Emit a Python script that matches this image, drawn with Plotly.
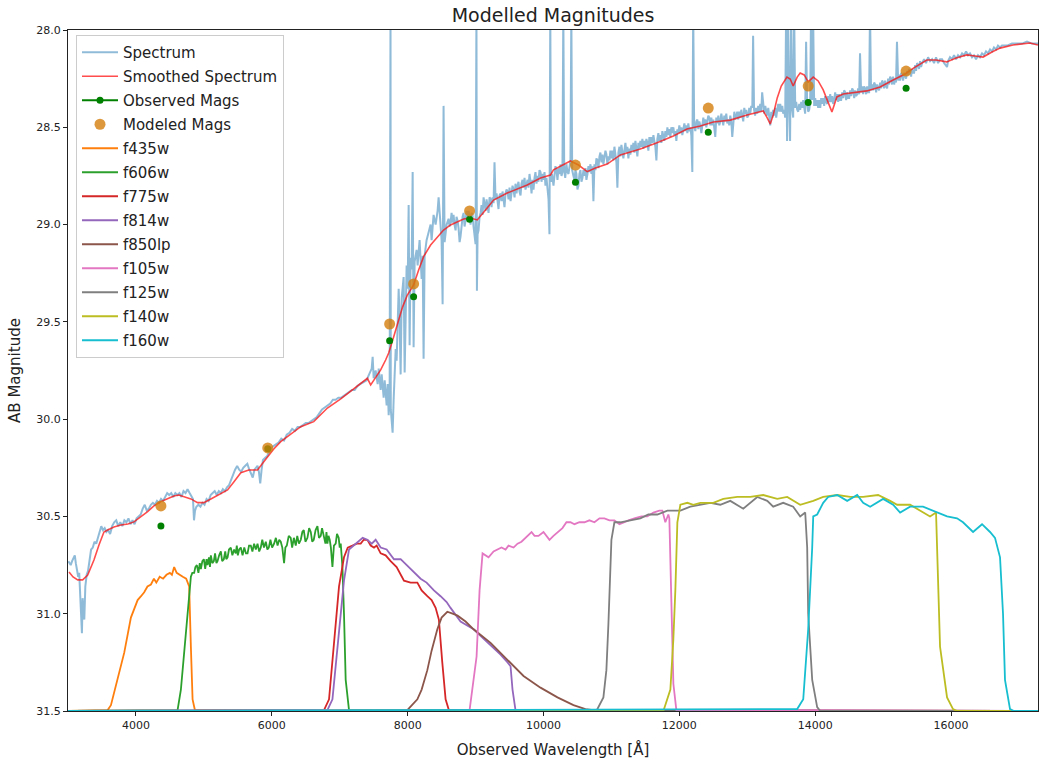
import plotly.graph_objects as go

# Observed spectrum: (observed wavelength [Å], AB magnitude)
spectrum = [
    (3005, 30.73), (3040, 30.75), (3060, 30.73), (3085, 30.71), (3100, 30.70), (3115, 30.74),
    (3130, 30.77), (3150, 30.81), (3165, 30.79), (3180, 30.89), (3195, 31.04), (3205, 31.10),
    (3215, 30.92), (3228, 30.97), (3240, 31.03), (3255, 30.86), (3275, 30.80), (3295, 30.78),
    (3320, 30.71), (3340, 30.67), (3365, 30.66), (3390, 30.63), (3415, 30.64), (3440, 30.61),
    (3465, 30.58), (3490, 30.55), (3515, 30.57), (3540, 30.56), (3565, 30.58), (3590, 30.57),
    (3620, 30.59), (3650, 30.55), (3680, 30.53), (3710, 30.52), (3740, 30.55), (3770, 30.53),
    (3800, 30.55), (3830, 30.52), (3860, 30.53), (3890, 30.51), (3920, 30.54), (3950, 30.52),
    (3980, 30.54), (4010, 30.51), (4040, 30.50), (4070, 30.49), (4100, 30.46), (4130, 30.44),
    (4160, 30.47), (4190, 30.46), (4220, 30.44), (4250, 30.43), (4280, 30.44), (4310, 30.42),
    (4340, 30.43), (4370, 30.41), (4400, 30.42), (4430, 30.40), (4460, 30.38), (4490, 30.39),
    (4520, 30.38), (4550, 30.40), (4580, 30.38), (4610, 30.39), (4640, 30.38), (4670, 30.40),
    (4700, 30.37), (4730, 30.38), (4760, 30.36), (4790, 30.38), (4820, 30.40), (4840, 30.41),
    (4855, 30.52), (4870, 30.47), (4890, 30.45), (4920, 30.44), (4950, 30.45), (4980, 30.43),
    (5010, 30.44), (5040, 30.41), (5070, 30.42), (5100, 30.39), (5130, 30.38), (5160, 30.37),
    (5190, 30.39), (5220, 30.37), (5250, 30.38), (5280, 30.36), (5310, 30.37), (5340, 30.35),
    (5370, 30.34), (5400, 30.31), (5430, 30.28), (5460, 30.26), (5490, 30.24), (5520, 30.26),
    (5550, 30.27), (5580, 30.25), (5610, 30.24), (5640, 30.23), (5670, 30.26), (5700, 30.28),
    (5720, 30.30), (5745, 30.26), (5770, 30.25), (5790, 30.24), (5810, 30.27), (5830, 30.33),
    (5850, 30.26), (5870, 30.21), (5900, 30.20), (5930, 30.19), (5960, 30.17), (5990, 30.15),
    (6020, 30.14), (6060, 30.13), (6100, 30.12), (6140, 30.10), (6180, 30.11), (6220, 30.08),
    (6260, 30.07), (6300, 30.05), (6340, 30.06), (6380, 30.04), (6420, 30.04), (6460, 30.03),
    (6500, 30.02), (6540, 30.02), (6580, 30.01), (6620, 30.00), (6660, 29.99), (6700, 29.97),
    (6740, 29.95), (6780, 29.94), (6820, 29.93), (6860, 29.92), (6900, 29.90), (6940, 29.90),
    (6980, 29.89), (7020, 29.89), (7060, 29.88), (7100, 29.87), (7140, 29.86), (7180, 29.85),
    (7220, 29.85), (7260, 29.83), (7300, 29.82), (7340, 29.81), (7380, 29.80), (7397, 29.80),
    (7420, 29.78), (7441, 29.76), (7471, 29.74), (7485, 29.68), (7500, 29.79), (7529, 29.75),
    (7559, 29.82), (7574, 29.74), (7603, 29.85), (7618, 29.77), (7647, 29.89), (7662, 29.80),
    (7691, 29.93), (7706, 29.82), (7721, 29.98), (7735, 29.88), (7748, 27.90), (7752, 29.95),
    (7765, 30.00), (7779, 30.07), (7794, 29.90), (7809, 29.77), (7824, 29.64), (7838, 29.70),
    (7853, 29.54), (7868, 29.33), (7882, 29.49), (7897, 29.77), (7912, 29.38), (7926, 29.33),
    (7941, 29.27), (7956, 29.76), (7971, 29.33), (7985, 29.21), (8000, 29.33), (8015, 28.90),
    (8029, 29.62), (8044, 29.17), (8059, 29.23), (8074, 28.73), (8088, 29.63), (8103, 29.19),
    (8132, 29.13), (8147, 29.21), (8176, 29.08), (8206, 29.28), (8221, 29.16), (8235, 29.69),
    (8250, 29.16), (8279, 29.08), (8309, 29.04), (8338, 29.00), (8353, 29.08), (8382, 28.95),
    (8412, 29.00), (8441, 28.93), (8456, 28.86), (8485, 29.00), (8500, 29.08), (8515, 29.41),
    (8529, 28.39), (8544, 29.09), (8574, 29.00), (8603, 28.97), (8618, 29.01), (8632, 28.99),
    (8647, 28.94), (8661, 28.99), (8676, 28.95), (8690, 29.00), (8706, 29.03), (8720, 28.96),
    (8735, 28.98), (8750, 29.02), (8765, 29.09), (8779, 29.06), (8794, 29.00), (8809, 28.96),
    (8824, 28.94), (8838, 29.01), (8853, 28.98), (8868, 28.93), (8882, 28.97), (8897, 28.93),
    (8912, 28.96), (8926, 29.00), (8941, 28.94), (8956, 28.95), (8970, 29.01), (8985, 29.08),
    (9000, 29.10), (9013, 27.90), (9020, 29.34), (9030, 29.05), (9044, 29.03), (9059, 28.96),
    (9074, 28.94), (9088, 28.90), (9103, 28.95), (9118, 28.86), (9132, 28.91), (9147, 28.93),
    (9162, 28.87), (9176, 28.90), (9191, 28.94), (9206, 28.86), (9221, 28.87), (9235, 28.91),
    (9250, 28.86), (9265, 28.89), (9279, 28.68), (9294, 28.87), (9309, 28.84), (9324, 28.88),
    (9338, 28.92), (9353, 28.85), (9368, 28.84), (9382, 28.88), (9397, 28.83), (9412, 28.87),
    (9426, 28.91), (9441, 28.84), (9456, 28.82), (9471, 28.83), (9485, 28.87), (9500, 28.81),
    (9515, 28.88), (9529, 28.84), (9544, 28.80), (9559, 28.82), (9574, 28.86), (9588, 28.79),
    (9603, 28.84), (9618, 28.80), (9632, 28.78), (9647, 28.83), (9662, 28.85), (9676, 28.79),
    (9691, 28.77), (9706, 28.81), (9721, 28.76), (9735, 28.82), (9750, 28.79), (9765, 28.77),
    (9779, 28.81), (9794, 28.74), (9809, 28.78), (9824, 28.84), (9838, 28.77), (9853, 28.82),
    (9868, 28.76), (9882, 28.73), (9897, 28.79), (9912, 28.75), (9926, 28.78), (9941, 28.72),
    (9956, 28.73), (9971, 28.78), (9985, 28.74), (10000, 28.77), (10015, 28.73), (10029, 28.80),
    (10044, 28.76), (10059, 28.82), (10074, 28.87), (10088, 29.05), (10100, 27.90), (10110, 28.78),
    (10125, 28.74), (10147, 28.80), (10162, 28.73), (10176, 28.70), (10191, 28.72), (10206, 28.77),
    (10221, 28.71), (10235, 28.74), (10250, 28.69), (10265, 28.75), (10279, 28.73), (10292, 27.90),
    (10305, 28.72), (10320, 28.76), (10338, 28.69), (10353, 28.73), (10368, 28.74), (10382, 28.70),
    (10397, 28.67), (10410, 27.90), (10422, 28.72), (10441, 28.75), (10456, 28.77), (10470, 28.72),
    (10485, 28.74), (10500, 28.82), (10515, 28.80), (10529, 28.74), (10544, 28.72), (10559, 28.78),
    (10574, 28.76), (10588, 28.72), (10603, 28.75), (10618, 28.71), (10632, 28.77), (10647, 28.74),
    (10662, 28.70), (10676, 28.73), (10691, 28.69), (10706, 28.74), (10720, 28.70), (10735, 28.88),
    (10750, 28.69), (10765, 28.72), (10779, 28.66), (10794, 28.67), (10809, 28.71), (10824, 28.65),
    (10838, 28.63), (10853, 28.68), (10868, 28.64), (10882, 28.69), (10897, 28.66), (10912, 28.62),
    (10926, 28.64), (10941, 28.69), (10956, 28.65), (10971, 28.67), (10985, 28.62), (11000, 28.66),
    (11015, 28.62), (11029, 28.67), (11044, 28.60), (11059, 28.64), (11074, 28.68), (11088, 28.81),
    (11103, 28.63), (11118, 28.60), (11132, 28.65), (11147, 28.59), (11162, 28.63), (11176, 28.66),
    (11191, 28.62), (11206, 28.58), (11221, 28.63), (11235, 28.60), (11250, 28.66), (11265, 28.61),
    (11279, 28.64), (11294, 28.59), (11309, 28.62), (11323, 28.58), (11338, 28.63), (11353, 28.57),
    (11368, 28.61), (11382, 28.65), (11397, 28.58), (11412, 28.61), (11426, 28.57), (11441, 28.60),
    (11456, 28.56), (11471, 28.61), (11485, 28.57), (11500, 28.60), (11515, 28.56), (11529, 28.58),
    (11544, 28.62), (11559, 28.55), (11574, 28.59), (11588, 28.55), (11603, 28.58), (11618, 28.54),
    (11632, 28.57), (11647, 28.60), (11662, 28.67), (11676, 28.56), (11691, 28.53), (11706, 28.57),
    (11721, 28.54), (11735, 28.58), (11750, 28.52), (11765, 28.55), (11779, 28.57), (11794, 28.52),
    (11809, 28.55), (11824, 28.50), (11838, 28.54), (11853, 28.51), (11868, 28.55), (11882, 28.50),
    (11897, 28.53), (11912, 28.50), (11926, 28.54), (11941, 28.52), (11956, 28.57), (11971, 28.51),
    (11985, 28.53), (12000, 28.49), (12015, 28.53), (12029, 28.50), (12044, 28.54), (12059, 28.51),
    (12074, 28.48), (12088, 28.52), (12103, 28.49), (12118, 28.53), (12132, 28.48), (12147, 28.52),
    (12162, 28.50), (12176, 28.54), (12191, 28.73), (12204, 27.90), (12218, 28.49), (12235, 28.52),
    (12250, 28.47), (12265, 28.46), (12279, 28.51), (12294, 28.47), (12309, 28.49), (12324, 28.53),
    (12338, 28.47), (12353, 28.45), (12368, 28.49), (12382, 28.46), (12397, 28.50), (12412, 28.47),
    (12426, 28.44), (12441, 28.45), (12456, 28.49), (12471, 28.45), (12485, 28.49), (12500, 28.46),
    (12515, 28.50), (12529, 28.55), (12544, 28.45), (12559, 28.48), (12574, 28.44), (12588, 28.49),
    (12603, 28.47), (12618, 28.43), (12632, 28.46), (12647, 28.49), (12662, 28.44), (12676, 28.47),
    (12691, 28.43), (12706, 28.48), (12721, 28.46), (12735, 28.49), (12750, 28.44), (12765, 28.47),
    (12779, 28.55), (12794, 28.45), (12809, 28.42), (12824, 28.46), (12838, 28.43), (12853, 28.42),
    (12868, 28.46), (12882, 28.42), (12897, 28.45), (12912, 28.41), (12926, 28.44), (12941, 28.47),
    (12956, 28.40), (12971, 28.43), (12985, 28.41), (13000, 28.45), (13015, 28.44), (13029, 28.40),
    (13044, 28.43), (13059, 28.39), (13074, 28.40), (13086, 28.03), (13100, 28.41), (13115, 28.44),
    (13130, 28.40), (13147, 28.43), (13162, 28.39), (13176, 28.42), (13191, 28.38), (13206, 28.42),
    (13219, 28.32), (13235, 28.40), (13250, 28.43), (13265, 28.39), (13279, 28.42), (13294, 28.44),
    (13309, 28.40), (13323, 28.45), (13338, 28.49), (13353, 28.42), (13368, 28.45), (13382, 28.41),
    (13397, 28.44), (13412, 28.40), (13426, 28.45), (13441, 28.41), (13456, 28.38), (13470, 28.42),
    (13485, 28.38), (13500, 28.42), (13515, 28.39), (13529, 28.43), (13544, 28.41), (13558, 28.45),
    (13572, 27.90), (13586, 28.57), (13600, 27.90), (13616, 28.38), (13630, 28.57), (13646, 27.90),
    (13662, 28.41), (13676, 28.45), (13690, 27.90), (13706, 28.40), (13720, 28.37), (13735, 28.41),
    (13750, 28.42), (13765, 28.38), (13779, 28.41), (13794, 28.37), (13809, 28.40), (13824, 28.36),
    (13838, 28.40), (13852, 28.43), (13866, 28.06), (13882, 28.38), (13897, 28.42), (13912, 28.41),
    (13926, 28.37), (13939, 27.90), (13954, 28.36), (13969, 27.90), (13985, 28.39), (14000, 28.35),
    (14015, 28.39), (14029, 28.36), (14044, 28.40), (14059, 28.36), (14074, 28.40), (14088, 28.35),
    (14103, 28.38), (14118, 28.35), (14132, 28.39), (14147, 28.34), (14162, 28.37), (14176, 28.38),
    (14191, 28.34), (14206, 28.37), (14221, 28.33), (14235, 28.37), (14250, 28.34), (14265, 28.38),
    (14279, 28.36), (14294, 28.32), (14309, 28.36), (14324, 28.33), (14338, 28.37), (14353, 28.33),
    (14368, 28.36), (14382, 28.36), (14397, 28.32), (14412, 28.35), (14426, 28.31), (14441, 28.32),
    (14456, 28.36), (14470, 28.32), (14485, 28.35), (14500, 28.35), (14515, 28.31), (14529, 28.34),
    (14544, 28.30), (14559, 28.31), (14574, 28.35), (14588, 28.31), (14603, 28.34), (14618, 28.33),
    (14632, 28.30), (14647, 28.33), (14660, 28.12), (14676, 28.32), (14691, 28.29), (14706, 28.33),
    (14720, 28.29), (14735, 28.30), (14750, 28.33), (14765, 28.29), (14779, 28.32), (14794, 28.32),
    (14807, 27.90), (14822, 28.31), (14838, 28.28), (14853, 28.31), (14868, 28.27), (14882, 28.28),
    (14897, 28.32), (14912, 28.28), (14926, 28.30), (14941, 28.31), (14956, 28.27), (14971, 28.30),
    (14985, 28.26), (15000, 28.27), (15015, 28.30), (15029, 28.26), (15044, 28.29), (15059, 28.30),
    (15074, 28.25), (15088, 28.28), (15103, 28.24), (15118, 28.25), (15132, 28.28), (15147, 28.24),
    (15162, 28.28), (15176, 28.25), (15190, 28.27), (15204, 28.06), (15221, 28.26), (15235, 28.23),
    (15250, 28.26), (15265, 28.22), (15279, 28.23), (15294, 28.26), (15309, 28.22), (15324, 28.24),
    (15338, 28.25), (15353, 28.21), (15368, 28.23), (15382, 28.20), (15397, 28.21), (15412, 28.24),
    (15426, 28.20), (15441, 28.22), (15456, 28.22), (15471, 28.18), (15485, 28.21), (15500, 28.17),
    (15515, 28.18), (15529, 28.20), (15544, 28.16), (15559, 28.19), (15574, 28.17), (15603, 28.15),
    (15632, 28.17), (15662, 28.14), (15691, 28.16), (15721, 28.15), (15750, 28.17), (15779, 28.14),
    (15809, 28.17), (15838, 28.15), (15868, 28.15), (15897, 28.17), (15926, 28.18), (15941, 28.19),
    (15956, 28.16), (15985, 28.14), (16015, 28.15), (16044, 28.13), (16074, 28.15), (16103, 28.13),
    (16132, 28.14), (16162, 28.12), (16191, 28.13), (16221, 28.11), (16250, 28.13), (16279, 28.12),
    (16309, 28.14), (16338, 28.13), (16368, 28.15), (16397, 28.13), (16426, 28.14), (16456, 28.12),
    (16485, 28.13), (16515, 28.11), (16544, 28.12), (16574, 28.10), (16603, 28.11), (16632, 28.09),
    (16662, 28.10), (16691, 28.08), (16720, 28.09), (16750, 28.08), (16780, 28.08), (16824, 28.08),
    (16897, 28.07), (16971, 28.07), (17044, 28.07), (17118, 28.06), (17191, 28.07), (17265, 28.07),
    (17280, 28.07),
]

# Smoothed spectrum: (observed wavelength [Å], AB magnitude)
smoothed = [
    (3015, 30.785), (3074, 30.811), (3143, 30.826), (3216, 30.826), (3290, 30.801), (3382, 30.724),
    (3456, 30.647), (3529, 30.580), (3584, 30.570), (3676, 30.554), (3779, 30.544), (3882, 30.539),
    (3971, 30.528), (4074, 30.503), (4172, 30.475), (4265, 30.446), (4368, 30.424), (4456, 30.410),
    (4559, 30.395), (4632, 30.390), (4706, 30.398), (4809, 30.410), (4907, 30.429), (5000, 30.429),
    (5103, 30.410), (5201, 30.390), (5349, 30.364), (5441, 30.323), (5544, 30.275), (5662, 30.261),
    (5790, 30.261), (5868, 30.225), (5937, 30.193), (6029, 30.153), (6132, 30.116), (6279, 30.076),
    (6427, 30.039), (6618, 30.013), (6721, 29.978), (6819, 29.943), (7015, 29.896), (7206, 29.845),
    (7353, 29.807), (7407, 29.790), (7456, 29.824), (7529, 29.783), (7603, 29.747), (7676, 29.696),
    (7721, 29.660), (7794, 29.578), (7868, 29.490), (7926, 29.423), (7996, 29.362), (8088, 29.310),
    (8162, 29.233), (8235, 29.165), (8338, 29.105), (8437, 29.062), (8529, 29.028), (8632, 29.002),
    (8731, 28.985), (8824, 28.971), (8926, 28.966), (9025, 28.976), (9147, 28.925), (9265, 28.874),
    (9466, 28.838), (9760, 28.797), (9956, 28.761), (10103, 28.745), (10147, 28.719), (10279, 28.694),
    (10397, 28.673), (10515, 28.694), (10643, 28.728), (10765, 28.709), (10937, 28.689), (11132, 28.642),
    (11426, 28.612), (11662, 28.581), (11912, 28.545), (12113, 28.509), (12309, 28.493), (12500, 28.473),
    (12750, 28.463), (12996, 28.437), (13235, 28.416), (13294, 28.452), (13338, 28.483), (13382, 28.437),
    (13441, 28.349), (13500, 28.288), (13584, 28.242), (13632, 28.252), (13676, 28.288), (13735, 28.242),
    (13779, 28.221), (13838, 28.231), (13897, 28.267), (13971, 28.242), (14044, 28.262), (14118, 28.308),
    (14191, 28.370), (14246, 28.421), (14319, 28.344), (14412, 28.329), (14760, 28.313), (14956, 28.293),
    (15147, 28.257), (15324, 28.226), (15441, 28.197), (15643, 28.154), (15779, 28.154), (15937, 28.164),
    (16074, 28.144), (16231, 28.128), (16353, 28.134), (16471, 28.139), (16603, 28.113), (16721, 28.093),
    (16912, 28.077), (17044, 28.072), (17162, 28.067), (17279, 28.077),
]

# Photometry at the filter pivot wavelengths
pivot_wave = [4368, 5941, 7735, 8088, 8912, 10471, 12426, 13897, 15338]
observed_mag = [30.549, 30.152, 29.597, 29.371, 28.973, 28.783, 28.526, 28.372, 28.300]
modeled_mag = [30.446, 30.148, 29.511, 29.305, 28.930, 28.694, 28.401, 28.288, 28.211]

# Filter transmission curves, drawn on the magnitude axis (31.5 = zero throughput)
F435W = [
    (3000, 31.50), (3584, 31.495), (3632, 31.47), (3731, 31.34), (3828, 31.20), (3926, 31.02),
    (4025, 30.93), (4075, 30.91), (4122, 30.89), (4170, 30.86), (4221, 30.85), (4265, 30.82),
    (4300, 30.84), (4350, 30.81), (4400, 30.82), (4450, 30.80), (4500, 30.79), (4530, 30.80),
    (4563, 30.76), (4600, 30.79), (4640, 30.80), (4690, 30.81), (4740, 30.82), (4784, 30.86),
    (4809, 31.17), (4834, 31.44), (4868, 31.495), (17280, 31.50),
]
F606W = [
    (3000, 31.50), (4613, 31.495), (4662, 31.39), (4690, 31.28), (4710, 31.20), (4730, 31.10),
    (4750, 31.03), (4765, 30.95), (4784, 30.89), (4809, 30.81), (4830, 30.79), (4857, 30.79),
    (4875, 30.76), (4897, 30.75), (4920, 30.79), (4940, 30.74), (4956, 30.77), (4978, 30.73),
    (5000, 30.72), (5020, 30.77), (5040, 30.72), (5054, 30.75), (5075, 30.71), (5090, 30.76),
    (5103, 30.70), (5125, 30.74), (5147, 30.73), (5165, 30.69), (5185, 30.74), (5201, 30.73),
    (5225, 30.70), (5250, 30.68), (5270, 30.73), (5294, 30.72), (5315, 30.68), (5330, 30.72),
    (5349, 30.71), (5370, 30.67), (5397, 30.66), (5420, 30.70), (5446, 30.67), (5470, 30.69),
    (5485, 30.65), (5500, 30.70), (5520, 30.67), (5544, 30.66), (5570, 30.70), (5595, 30.66),
    (5620, 30.69), (5643, 30.69), (5665, 30.65), (5691, 30.65), (5715, 30.68), (5740, 30.64),
    (5765, 30.67), (5790, 30.64), (5815, 30.68), (5838, 30.66), (5860, 30.62), (5885, 30.66),
    (5912, 30.63), (5935, 30.67), (5956, 30.66), (5980, 30.62), (6005, 30.66), (6034, 30.64),
    (6060, 30.61), (6085, 30.65), (6110, 30.62), (6132, 30.63), (6155, 30.66), (6181, 30.74),
    (6200, 30.66), (6221, 30.65), (6250, 30.60), (6279, 30.61), (6300, 30.66), (6325, 30.61),
    (6353, 30.65), (6375, 30.60), (6400, 30.64), (6427, 30.62), (6450, 30.58), (6471, 30.57),
    (6495, 30.63), (6525, 30.61), (6550, 30.56), (6574, 30.58), (6595, 30.63), (6618, 30.62),
    (6645, 30.57), (6672, 30.55), (6695, 30.61), (6721, 30.60), (6740, 30.56), (6765, 30.60),
    (6790, 30.64), (6805, 30.58), (6819, 30.64), (6835, 30.60), (6853, 30.62), (6870, 30.66),
    (6893, 30.76), (6915, 30.65), (6941, 30.64), (6960, 30.59), (6985, 30.61), (7000, 30.66),
    (7015, 30.64), (7028, 30.70), (7040, 30.76), (7063, 31.00), (7088, 31.34), (7137, 31.495),
    (17280, 31.50),
]
F775W = [
    (3000, 31.50), (6769, 31.495), (6843, 31.44), (6916, 31.17), (6990, 30.86), (7063, 30.71),
    (7118, 30.66), (7187, 30.65), (7250, 30.64), (7309, 30.64), (7353, 30.62), (7407, 30.62),
    (7456, 30.65), (7505, 30.66), (7544, 30.65), (7603, 30.69), (7676, 30.70), (7750, 30.73),
    (7838, 30.76), (7946, 30.83), (8044, 30.84), (8143, 30.84), (8206, 30.88), (8290, 30.91),
    (8353, 30.93), (8412, 30.97), (8460, 31.03), (8510, 31.25), (8559, 31.44), (8607, 31.495),
    (17280, 31.50),
]
F814W = [
    (3000, 31.50), (6819, 31.495), (6893, 31.44), (6966, 31.17), (7015, 30.98), (7063, 30.83),
    (7137, 30.67), (7210, 30.65), (7279, 30.63), (7338, 30.61), (7407, 30.62), (7471, 30.64),
    (7529, 30.62), (7603, 30.66), (7691, 30.67), (7799, 30.72), (7897, 30.72), (7985, 30.75),
    (8093, 30.79), (8191, 30.82), (8279, 30.84), (8387, 30.88), (8485, 30.91), (8574, 30.94),
    (8632, 30.97), (8779, 31.04), (8971, 31.08), (9221, 31.16), (9368, 31.21), (9471, 31.25),
    (9515, 31.27), (9544, 31.39), (9588, 31.495), (17280, 31.50),
]
F850LP = [
    (3000, 31.50), (7897, 31.50), (7995, 31.495), (8059, 31.47), (8143, 31.44), (8206, 31.39),
    (8290, 31.29), (8353, 31.19), (8437, 31.08), (8500, 31.02), (8584, 30.99), (8662, 31.00),
    (8735, 31.01), (8853, 31.04), (8971, 31.08), (9221, 31.15), (9471, 31.24), (9706, 31.32),
    (9956, 31.38), (10206, 31.43), (10441, 31.47), (10618, 31.49), (10809, 31.50), (17280, 31.50),
]
F105W = [
    (3000, 31.50), (8912, 31.495), (9015, 31.22), (9059, 30.88), (9103, 30.69), (9191, 30.71),
    (9265, 30.68), (9324, 30.67), (9382, 30.66), (9441, 30.67), (9485, 30.65), (9559, 30.66),
    (9618, 30.64), (9676, 30.63), (9735, 30.61), (9824, 30.58), (9868, 30.60), (9926, 30.60),
    (10000, 30.58), (10088, 30.62), (10147, 30.60), (10221, 30.58), (10279, 30.56), (10338, 30.53),
    (10397, 30.53), (10456, 30.54), (10529, 30.53), (10603, 30.53), (10676, 30.52), (10750, 30.53),
    (10824, 30.51), (10897, 30.51), (10971, 30.52), (11044, 30.52), (11118, 30.54), (11191, 30.53),
    (11250, 30.52), (11338, 30.51), (11441, 30.50), (11529, 30.50), (11618, 30.48), (11706, 30.47),
    (11750, 30.47), (11794, 30.53), (11838, 30.49), (11853, 30.51), (11882, 30.88), (11912, 31.36),
    (11956, 31.495), (17280, 31.50),
]
F125W = [
    (3000, 31.50), (10779, 31.50), (10882, 31.43), (10926, 31.29), (10956, 31.05), (10985, 30.72),
    (11000, 30.62), (11044, 30.53), (11132, 30.53), (11279, 30.52), (11426, 30.51), (11544, 30.49),
    (11676, 30.49), (11824, 30.47), (12015, 30.47), (12162, 30.45), (12309, 30.44), (12456, 30.43),
    (12603, 30.44), (12750, 30.42), (12941, 30.46), (13147, 30.40), (13294, 30.42), (13382, 30.45),
    (13529, 30.43), (13676, 30.45), (13779, 30.50), (13853, 30.48), (13882, 30.66), (13897, 31.00),
    (13956, 31.34), (14029, 31.48), (14074, 31.50), (17280, 31.50),
]
F140W = [
    (3000, 31.50), (11765, 31.50), (11868, 31.39), (11912, 31.13), (11941, 30.88), (11971, 30.53),
    (12015, 30.44), (12118, 30.43), (12206, 30.44), (12309, 30.43), (12500, 30.43), (12647, 30.41),
    (12853, 30.40), (13044, 30.40), (13235, 30.39), (13441, 30.41), (13588, 30.40), (13779, 30.44),
    (13971, 30.42), (14118, 30.40), (14324, 30.39), (14515, 30.40), (14706, 30.40), (14926, 30.39),
    (15103, 30.42), (15206, 30.44), (15397, 30.44), (15588, 30.48), (15691, 30.50), (15779, 30.48),
    (15809, 30.83), (15838, 31.17), (15941, 31.43), (16029, 31.49), (16088, 31.50), (17280, 31.50),
]
F160W = [
    (3000, 31.50), (13735, 31.49), (13824, 31.44), (13897, 31.08), (13956, 30.66), (13971, 30.50),
    (14029, 30.49), (14118, 30.43), (14191, 30.40), (14324, 30.39), (14471, 30.42), (14618, 30.39),
    (14706, 30.43), (14809, 30.45), (15000, 30.41), (15147, 30.44), (15250, 30.48), (15397, 30.45),
    (15588, 30.45), (15794, 30.48), (15941, 30.50), (16088, 30.51), (16176, 30.53), (16324, 30.58),
    (16456, 30.54), (16574, 30.58), (16647, 30.61), (16721, 30.71), (16765, 31.00), (16794, 31.34),
    (16868, 31.49), (16926, 31.50), (17280, 31.50),
]

filter_names = ["f435w", "f606w", "f775w", "f814w", "f850lp", "f105w", "f125w", "f140w", "f160w"]
filter_curves = [F435W, F606W, F775W, F814W, F850LP, F105W, F125W, F140W, F160W]
filter_colors = ["#ff7f0e", "#2ca02c", "#d62728", "#9467bd", "#8c564b",
                 "#e377c2", "#7f7f7f", "#bcbd22", "#17becf"]

x_ticks = [4000, 6000, 8000, 10000, 12000, 14000, 16000]
y_ticks = [28.0, 28.5, 29.0, 29.5, 30.0, 30.5, 31.0, 31.5]


def unzip(pairs):
    return [p[0] for p in pairs], [p[1] for p in pairs]


fig = go.Figure()

sx, sy = unzip(spectrum)
fig.add_trace(go.Scatter(x=sx, y=sy, mode="lines", name="Spectrum", legendgroup="spec",
                         line=dict(color="rgba(31,119,180,0.5)", width=2)))

mx, my = unzip(smoothed)
fig.add_trace(go.Scatter(x=mx, y=my, mode="lines", name="Smoothed Spectrum", legendgroup="smooth",
                         line=dict(color="rgba(255,0,0,0.7)", width=1.6)))

# isolated points (gaps between them) so only markers are drawn on the axes
ox, oy = [], []
for w, m in zip(pivot_wave, observed_mag):
    ox += [w, None]
    oy += [m, None]
fig.add_trace(go.Scatter(x=ox, y=oy, mode="lines+markers", connectgaps=False, name="Observed Mags",
                         legendgroup="obs", line=dict(color="green", width=2),
                         marker=dict(color="green", size=7)))

fig.add_trace(go.Scatter(x=pivot_wave, y=modeled_mag, mode="markers", name="Modeled Mags",
                         legendgroup="mod",
                         marker=dict(color="rgba(213,126,13,0.8)", size=11, line=dict(width=0))))

for name, curve, color in zip(filter_names, filter_curves, filter_colors):
    fx, fy = unzip(curve)
    fig.add_trace(go.Scatter(x=fx, y=fy, mode="lines", name=name, legendgroup=name,
                             line=dict(color=color, width=1.8)))

axis_common = dict(showline=True, linecolor="#222", linewidth=1, mirror=True,
                   ticks="outside", ticklen=4, tickwidth=1, tickcolor="#222",
                   showgrid=False, zeroline=False, tickfont=dict(size=11, color="#222"))

fig.update_layout(
    width=1039, height=764,
    margin=dict(l=68, r=1, t=30, b=53),
    paper_bgcolor="white", plot_bgcolor="white",
    font=dict(family="DejaVu Sans", color="#222"),
    title=dict(text="Modelled Magnitudes", x=0.5, xref="paper", xanchor="center",
               y=1 - 15 / 764, yref="container", yanchor="middle",
               font=dict(size=19, color="#222")),
    xaxis=dict(range=[3000, 17280], tickvals=x_ticks, tickformat="d",
               title=dict(text="Observed Wavelength [Å]", font=dict(size=15), standoff=13),
               **axis_common),
    yaxis=dict(range=[31.5, 28.0], tickvals=y_ticks, tickformat=".1f",
               title=dict(text="AB Magnitude", font=dict(size=15), standoff=12),
               **axis_common),
    legend=dict(x=8 / 970, y=1 - 5 / 681, xanchor="left", yanchor="top",
                bgcolor="rgba(255,255,255,0.85)", bordercolor="#cccccc", borderwidth=1,
                font=dict(size=15, color="#222"), traceorder="grouped", tracegroupgap=1.5,
                itemwidth=36),
    showlegend=True,
)

fig.write_html("out.html")
